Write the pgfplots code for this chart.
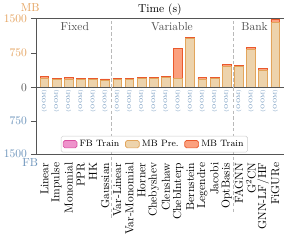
\documentclass[border=0pt]{standalone}
\usepackage{pgfplots}
\usepackage{pgfplotstable}
\pgfplotsset{compat=1.18}
\definecolor{mbcol}{HTML}{E4A25E}
\definecolor{fbcol}{HTML}{6A92BA}
\definecolor{preFill}{HTML}{EDD3AC}
\definecolor{preEdge}{HTML}{E2A55C}
\definecolor{trFill}{HTML}{FBA07E}
\definecolor{trEdge}{HTML}{E9592C}
\definecolor{fbFill}{HTML}{EE92CB}
\definecolor{fbEdge}{HTML}{DA4F9F}
\definecolor{axc}{HTML}{555555}
\definecolor{grp}{HTML}{505050}

\pgfplotstableread{
x pre train
0 205 40
1 180 25
2 185 27
3 180 25
4 175 25
5 160 25
6 175 25
7 175 25
8 200 27
9 200 27
10 218 30
11 205 635
12 1055 35
13 185 27
14 200 27
15 465 31
16 450 31
17 830 33
18 380 31
19 1410 60
}\mbdata

\pgfplotstableread{
x y
0 30
1 30
2 30
3 30
4 30
5 30
6 30
7 30
8 30
9 30
10 30
11 30
12 30
13 30
14 30
15 30
16 30
17 30
18 30
19 30
}\oomdata

\begin{document}
\begin{tikzpicture}
\pgfplotsset{every axis/.append style={scale only axis, width=215pt,
  xmin=-0.7, xmax=19.7, axis line style={axc}, tick style={axc},
  tick align=outside, ytick pos=left, clip=false}}
\begin{axis}[name=mb, at={(0,0)}, anchor=south west, height=60pt,
  ymin=0, ymax=1500, ytick={0,750,1500},
  yticklabels={\textcolor{axc}{0},750,1500},
  xtick=\empty, yticklabel style={text=mbcol},
  ybar stacked, bar width=0.72,
  title={Time (s)}, title style={yshift=-7pt}]
\addplot[fill=preFill, draw=preEdge, line width=0.6pt] table[x=x,y=pre]{\mbdata};
\addplot[fill=trFill, draw=trEdge, line width=0.6pt] table[x=x,y=train]{\mbdata};
\draw[gray!55, densely dashed] (axis cs:5.5,0) -- (axis cs:5.5,1500);
\draw[gray!55, densely dashed] (axis cs:15.5,0) -- (axis cs:15.5,1500);
\node[text=grp] at (axis cs:2.5,1330) {Fixed};
\node[text=grp] at (axis cs:10.5,1330) {Variable};
\node[text=grp] at (axis cs:17.3,1330) {Bank};
\node[text=mbcol, inner sep=1pt] at ([xshift=-5pt,yshift=9pt]axis description cs:0,1) {MB};
\end{axis}
\begin{axis}[at={(mb.south west)}, anchor=north west, height=57.5pt,
  y dir=reverse, ymin=0, ymax=1500, ytick={0,750,1500},
  yticklabels={{},750,1500}, yticklabel style={text=fbcol},
  xtick={0,...,19},
  xticklabels={Linear,Impulse,Monomial,PPR,HK,Gaussian,Var-Linear,Var-Monomial,Horner,Chebyshev,Clenshaw,ChebInterp,Bernstein,Legendre,Jacobi,OptBasis,FAGNN,G$^2$CN,GNN-LF/HF,FiGURe},
  x tick label style={rotate=90, anchor=east, text=black},
  major x tick style={draw=none},
  legend columns=3,
  legend style={at={(0.855,0.02)}, anchor=south east, font=\footnotesize,
    draw=black!20, rounded corners=1.5pt, inner sep=1.5pt,
    /tikz/every even column/.append style={column sep=3pt}},
  legend image code/.code={\draw[#1] (0pt,-3.2pt) rectangle (12pt,3.2pt);}]
\addlegendimage{fill=fbFill, draw=fbEdge, line width=0.6pt}
\addlegendentry{FB Train}
\addlegendimage{fill=preFill, draw=preEdge, line width=0.6pt}
\addlegendentry{MB Pre.}
\addlegendimage{fill=trFill, draw=trEdge, line width=0.6pt}
\addlegendentry{MB Train}
\addplot[forget plot, only marks, mark=*, mark size=0pt,
  mark options={draw opacity=0},
  nodes near coords={(OOM)},
  nodes near coords style={rotate=90, anchor=east, inner sep=0.5pt,
    font=\fontsize{4.5}{5}\selectfont, text=fbcol}] table[x=x,y=y]{\oomdata};
\draw[gray!55, densely dashed] (axis cs:5.5,0) -- (axis cs:5.5,3000);
\draw[gray!55, densely dashed] (axis cs:15.5,0) -- (axis cs:15.5,2850);
\node[text=fbcol] at ([xshift=-5pt,yshift=-7.6pt]axis description cs:0,0) {FB};
\end{axis}
\end{tikzpicture}
\end{document}
